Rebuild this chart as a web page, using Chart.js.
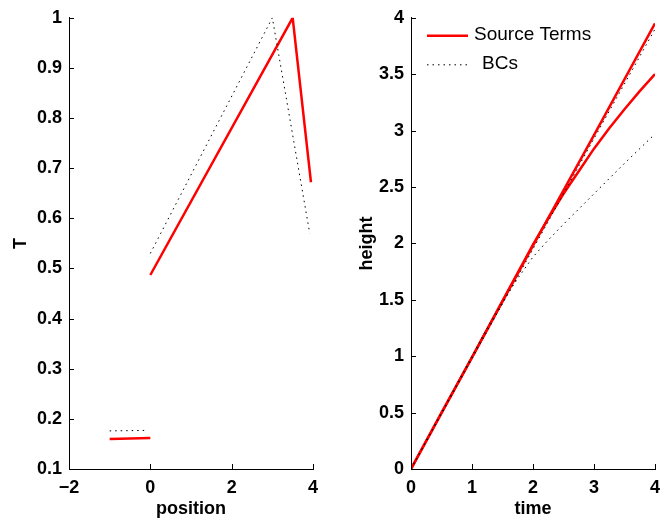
<!DOCTYPE html>
<html>
<head>
<meta charset="utf-8">
<script src="https://cdn.jsdelivr.net/npm/chart.js@4.4.1/dist/chart.umd.min.js"></script>
<style>
  body { margin: 0; background: #fff; }
  canvas { position: absolute; top: 0; }
</style>
</head>
<body>
<canvas id="chartT" width="336" height="523" style="left:0"></canvas>
<canvas id="chartHeight" width="336" height="523" style="left:336px"></canvas>
<script>
// left panel: T against position
const srcLowPos = [-1, 0];
const srcLowT = [0.16, 0.162];
const bcLowPos = [-1, -0.08];
const bcLowT = [0.176, 0.177];
const srcPos = [0, 3.5, 3.95];
const srcT = [0.487, 1.0, 0.672];
const bcPos = [0, 3, 3.92];
const bcT = [0.53, 1.0, 0.57];

// right panel: height against time
const srcTimeA = [0, 1, 2, 3, 4];
const srcHeightA = [0, 0.99, 1.98, 2.96, 3.95];
const srcTimeB = [0, 0.5, 1, 1.5, 2, 2.25, 2.5, 2.75, 3, 3.25, 3.5, 3.75, 4];
const srcHeightB = [0, 0.5, 0.99, 1.49, 1.99, 2.22, 2.44, 2.64, 2.84, 3.02, 3.19, 3.35, 3.5];
const bcTimeA = [0, 1, 2, 3, 4];
const bcHeightA = [0, 0.98, 1.95, 2.93, 3.9];
const bcTimeB = [0, 0.5, 1, 1.25, 1.5, 1.75, 2, 2.25, 2.5, 3, 3.5, 4];
const bcHeightB = [0, 0.5, 1, 1.25, 1.48, 1.69, 1.88, 2.03, 2.17, 2.44, 2.71, 2.97];

// tick labels
const positionTicks = [-2, 0, 2, 4];
const tTicks = [0.1, 0.2, 0.3, 0.4, 0.5, 0.6, 0.7, 0.8, 0.9, 1];
const timeTicks = [0, 1, 2, 3, 4];
const heightTicks = [0, 0.5, 1, 1.5, 2, 2.5, 3, 3.5, 4];

const FONT = "'Liberation Sans', Arial, Helvetica, sans-serif";
const tickFont = { family: FONT, size: 18, weight: 'bold' };
const titleFont = { family: FONT, size: 18, weight: 'bold' };

const pts = (xs, ys) => xs.map((x, i) => ({ x, y: ys[i] }));

const redLine = (label, data) => ({
  label,
  data,
  borderColor: '#ff0000',
  borderWidth: 2.5,
  pointRadius: 0,
  order: 2
});

const dotLine = (label, data) => ({
  label,
  data,
  borderColor: '#000',
  borderWidth: 1,
  borderDash: [1.5, 4],
  pointRadius: 0,
  order: 1
});

const fixedTicks = list => scale => {
  scale.ticks = list.map(v => ({ value: v }));
};

const fmt = v => String(+v.toFixed(2)).replace('-', '\u2212');

// matlab-style ticks pointing into the axes
const innerTicks = {
  id: 'innerTicks',
  afterDraw: chart => {
    const ctx = chart.ctx;
    const { left, bottom } = chart.chartArea;
    ctx.save();
    ctx.strokeStyle = '#000';
    ctx.lineWidth = 1;
    ctx.beginPath();
    chart.scales.x.ticks.forEach(t => {
      const px = Math.round(chart.scales.x.getPixelForValue(t.value)) + 0.5;
      ctx.moveTo(px, bottom);
      ctx.lineTo(px, bottom - 5);
    });
    chart.scales.y.ticks.forEach(t => {
      const py = Math.round(chart.scales.y.getPixelForValue(t.value)) + 0.5;
      ctx.moveTo(left, py);
      ctx.lineTo(left + 5, py);
    });
    ctx.stroke();
    ctx.restore();
  }
};

// legend in the top left corner of the axes
const insideLegend = {
  id: 'insideLegend',
  afterDraw: (chart, args, opts) => {
    const ctx = chart.ctx;
    const { left, top } = chart.chartArea;
    const shown = chart.data.datasets.filter(ds => ds.label);
    ctx.save();
    ctx.font = `normal ${opts.size}px ${FONT}`;
    ctx.textBaseline = 'middle';
    ctx.fillStyle = '#000';
    shown.forEach((ds, i) => {
      const y = top + 18 + i * 29;
      ctx.beginPath();
      ctx.strokeStyle = ds.borderColor;
      ctx.lineWidth = ds.borderWidth;
      ctx.setLineDash(ds.borderDash || []);
      ctx.moveTo(left + 16, y);
      ctx.lineTo(left + 57, y);
      ctx.stroke();
      ctx.setLineDash([]);
      ctx.fillText(ds.label, left + opts.textOffsets[i], y - 1);
    });
    ctx.restore();
  }
};

const axisOptions = (min, max, list, title, yWidth, titlePad) => ({
  min,
  max,
  afterBuildTicks: fixedTicks(list),
  ticks: { font: tickFont, color: '#000', padding: yWidth ? 7 : 8, callback: fmt, autoSkip: false, maxRotation: 0 },
  grid: { display: false, drawTicks: false },
  border: { display: true, color: '#000', width: 1 },
  title: { display: true, text: title, font: titleFont, color: '#000', padding: titlePad },
  afterFit: scale => {
    if (yWidth) scale.width = yWidth;
    else scale.height = 54;
  }
});

const baseOptions = (xScale, yScale, padRight) => ({
  responsive: false,
  animation: false,
  layout: { padding: { top: 15, right: padRight, left: 0, bottom: 0 } },
  scales: { x: { type: 'linear', ...xScale }, y: { type: 'linear', ...yScale } },
  plugins: { legend: { display: false }, tooltip: { enabled: false } }
});

new Chart(document.getElementById('chartT'), {
  type: 'line',
  data: {
    datasets: [
      redLine('', pts(srcLowPos, srcLowT)),
      redLine('', pts(srcPos, srcT)),
      dotLine('', pts(bcLowPos, bcLowT)),
      dotLine('', pts(bcPos, bcT))
    ]
  },
  options: baseOptions(
    axisOptions(-2, 4, positionTicks, 'position', 0, { top: 0, bottom: 3 }),
    axisOptions(0.1, 1, tTicks, 'T', 69, { top: 10, bottom: 0 }),
    23
  ),
  plugins: [innerTicks]
});

const heightOptions = baseOptions(
  axisOptions(0, 4, timeTicks, 'time', 0, { top: 0, bottom: 3 }),
  axisOptions(0, 4, heightTicks, 'height', 75, { top: 20, bottom: 0 }),
  17
);
heightOptions.plugins.insideLegend = { size: 19, textOffsets: [63, 71] };

new Chart(document.getElementById('chartHeight'), {
  type: 'line',
  data: {
    datasets: [
      redLine('Source Terms', pts(srcTimeA, srcHeightA)),
      redLine('', pts(srcTimeB, srcHeightB)),
      dotLine('BCs', pts(bcTimeA, bcHeightA)),
      dotLine('', pts(bcTimeB, bcHeightB))
    ]
  },
  options: heightOptions,
  plugins: [innerTicks, insideLegend]
});
</script>
</body>
</html>
